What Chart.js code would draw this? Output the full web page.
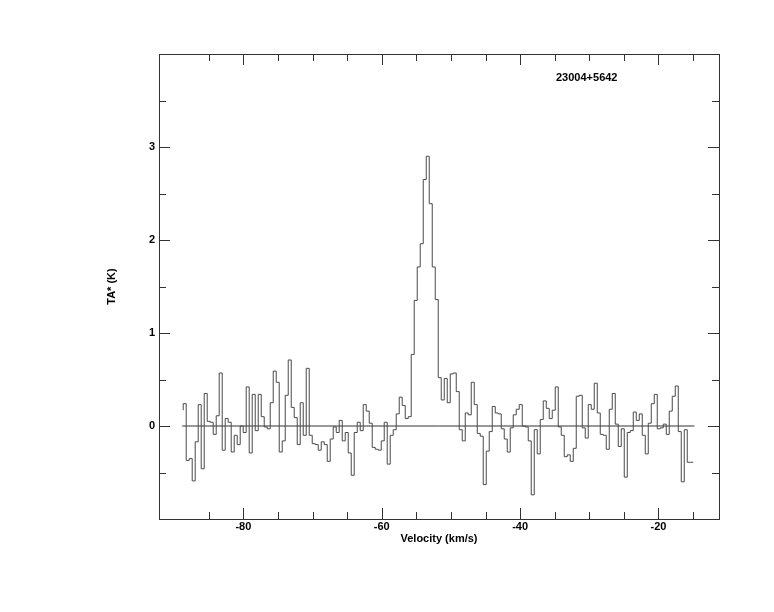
<!DOCTYPE html>
<html>
<head>
<meta charset="utf-8">
<script src="https://cdn.jsdelivr.net/npm/chart.js@4.4.1/dist/chart.umd.min.js"></script>
<style>
  html, body { margin: 0; padding: 0; background: #fff; }
  #wrap { width: 774px; height: 612px; }
</style>
</head>
<body>
<div id="wrap"><canvas id="spec" width="774" height="612"></canvas></div>
<script>
// source name and axis labels
const sourceName = '23004+5642';
const xTitle = 'Velocity (km/s)';
const yTitle = 'TA* (K)';

// velocity grid of the spectrum (left edge of first channel, channel width, km/s)
const vStart = -88.70;
const vStep = 0.4337;

// antenna temperature per channel (K)
const ta = [
  0.17, 0.24, -0.37, -0.35, -0.59, -0.17, 0.23, -0.46, 0.35, 0.05,
  0.04, -0.09, 0.11, 0.57, -0.26, 0.08, 0.04, -0.28, -0.10, -0.20,
  0.00, -0.07, 0.42, -0.29, 0.34, -0.05, 0.34, 0.10, -0.01, -0.03,
  0.25, 0.59, 0.47, -0.28, -0.16, 0.33, 0.71, 0.20, 0.09, -0.20,
  0.25, -0.10, 0.62, -0.10, -0.19, -0.20, -0.26, -0.17, -0.20, -0.38,
  -0.14, -0.01, -0.07, 0.06, -0.16, -0.07, -0.29, -0.53, -0.07, 0.04,
  -0.05, 0.23, 0.16, 0.03, -0.23, -0.25, -0.26, -0.16, 0.04, -0.41,
  -0.10, -0.04, 0.13, 0.31, 0.22, 0.08, 0.10, 0.77, 1.35, 1.71,
  1.96, 2.65, 2.90, 2.39, 1.71, 1.36, 0.52, 0.28, 0.51, 0.25,
  0.56, 0.57, 0.37, -0.04, -0.16, 0.14, 0.12, 0.47, 0.23, -0.08,
  -0.11, -0.63, -0.27, -0.06, 0.21, 0.14, 0.13, -0.03, -0.14, -0.28,
  -0.02, 0.12, 0.18, 0.23, 0.00, -0.01, -0.16, -0.74, -0.04, -0.30,
  0.07, 0.27, 0.19, 0.08, 0.17, 0.42, -0.01, -0.10, -0.33, -0.31,
  -0.38, -0.24, 0.32, 0.33, -0.02, -0.13, 0.23, 0.18, 0.46, 0.14,
  -0.09, -0.10, -0.25, 0.18, 0.35, 0.02, -0.22, -0.03, -0.55, -0.07,
  -0.05, 0.15, 0.06, 0.13, -0.10, -0.30, 0.03, 0.24, 0.34, -0.03,
  -0.02, 0.02, -0.09, 0.16, 0.32, 0.43, -0.06, -0.60, -0.04, -0.39
];

// baseline drawn under the spectrum
const baseX = [-88.85, -14.80];
const baseY = [0, 0];

// axis ranges and ticks
const xRange = [-92.2, -11.25];
const yRange = [-1, 4];
const xMajor = [-80, -60, -40, -20];
const xMinor = [-85, -75, -70, -65, -55, -50, -45, -35, -30, -25, -15];
const yMajor = [0, 1, 2, 3];
const yMinor = [-0.5, 0.5, 1.5, 2.5, 3.5];

const FONT = 'bold 11px "Liberation Sans", Arial, sans-serif';
const INK = '#333';

const specPts = ta.map((t, i) => ({ x: vStart + i * vStep, y: t }));
specPts.push({ x: vStart + ta.length * vStep, y: ta[ta.length - 1] });
const basePts = baseX.map((x, i) => ({ x, y: baseY[i] }));

// frame, inward tick marks and the text labels
const framePlugin = {
  id: 'frame',
  afterDraw(chart) {
    const { ctx, chartArea: a, scales } = chart;
    const xs = scales.x, ys = scales.y;
    ctx.save();
    ctx.strokeStyle = INK;
    ctx.lineWidth = 1;
    ctx.strokeRect(Math.round(a.left) + 0.5, Math.round(a.top) + 0.5,
      Math.round(a.right - a.left), Math.round(a.bottom - a.top));
    ctx.beginPath();
    const tickX = (vals, len) => vals.forEach(v => {
      const px = Math.round(xs.getPixelForValue(v)) + 0.5;
      ctx.moveTo(px, a.bottom); ctx.lineTo(px, a.bottom - len);
      ctx.moveTo(px, a.top); ctx.lineTo(px, a.top + len);
    });
    const tickY = (vals, len) => vals.forEach(v => {
      const py = Math.round(ys.getPixelForValue(v)) + 0.5;
      ctx.moveTo(a.left, py); ctx.lineTo(a.left + len, py);
      ctx.moveTo(a.right, py); ctx.lineTo(a.right - len, py);
    });
    tickX(xMajor, 11); tickX(xMinor, 7);
    tickY(yMajor, 11); tickY(yMinor, 7);
    ctx.stroke();

    ctx.fillStyle = '#000';
    ctx.font = FONT;
    ctx.textAlign = 'left';
    ctx.textBaseline = 'alphabetic';
    ctx.fillText(sourceName, 556, 81);
    ctx.textAlign = 'center';
    ctx.fillText(xTitle, (a.left + a.right) / 2, 542);
    ctx.translate(112, (a.top + a.bottom) / 2);
    ctx.rotate(-Math.PI / 2);
    ctx.textBaseline = 'middle';
    ctx.fillText(yTitle, 0, 0);
    ctx.restore();
  }
};

new Chart(document.getElementById('spec'), {
  type: 'line',
  data: {
    datasets: [
      { data: specPts, stepped: 'after', borderColor: '#4a4a4a', borderWidth: 1, pointRadius: 0, fill: false },
      { data: basePts, borderColor: INK, borderWidth: 1, pointRadius: 0, fill: false }
    ]
  },
  options: {
    responsive: false,
    animation: false,
    layout: { padding: { top: 54, right: 55, left: 0, bottom: 0 } },
    plugins: { legend: { display: false }, tooltip: { enabled: false } },
    scales: {
      x: {
        type: 'linear', min: xRange[0], max: xRange[1],
        grid: { display: false, drawTicks: false },
        border: { display: false },
        afterBuildTicks: s => { s.ticks = xMajor.map(v => ({ value: v })); },
        afterFit: s => { s.height = 612 - 519; },
        ticks: { color: '#000', font: { family: '"Liberation Sans", Arial, sans-serif', size: 11, weight: 'bold' }, padding: 1, maxRotation: 0, callback: v => String(v) }
      },
      y: {
        type: 'linear', min: yRange[0], max: yRange[1],
        grid: { display: false, drawTicks: false },
        border: { display: false },
        afterBuildTicks: s => { s.ticks = yMajor.map(v => ({ value: v })); },
        afterFit: s => { s.width = 159; },
        ticks: { color: '#000', font: { family: '"Liberation Sans", Arial, sans-serif', size: 11, weight: 'bold' }, padding: 4, callback: v => String(v) }
      }
    }
  },
  plugins: [framePlugin]
});
</script>
</body>
</html>
